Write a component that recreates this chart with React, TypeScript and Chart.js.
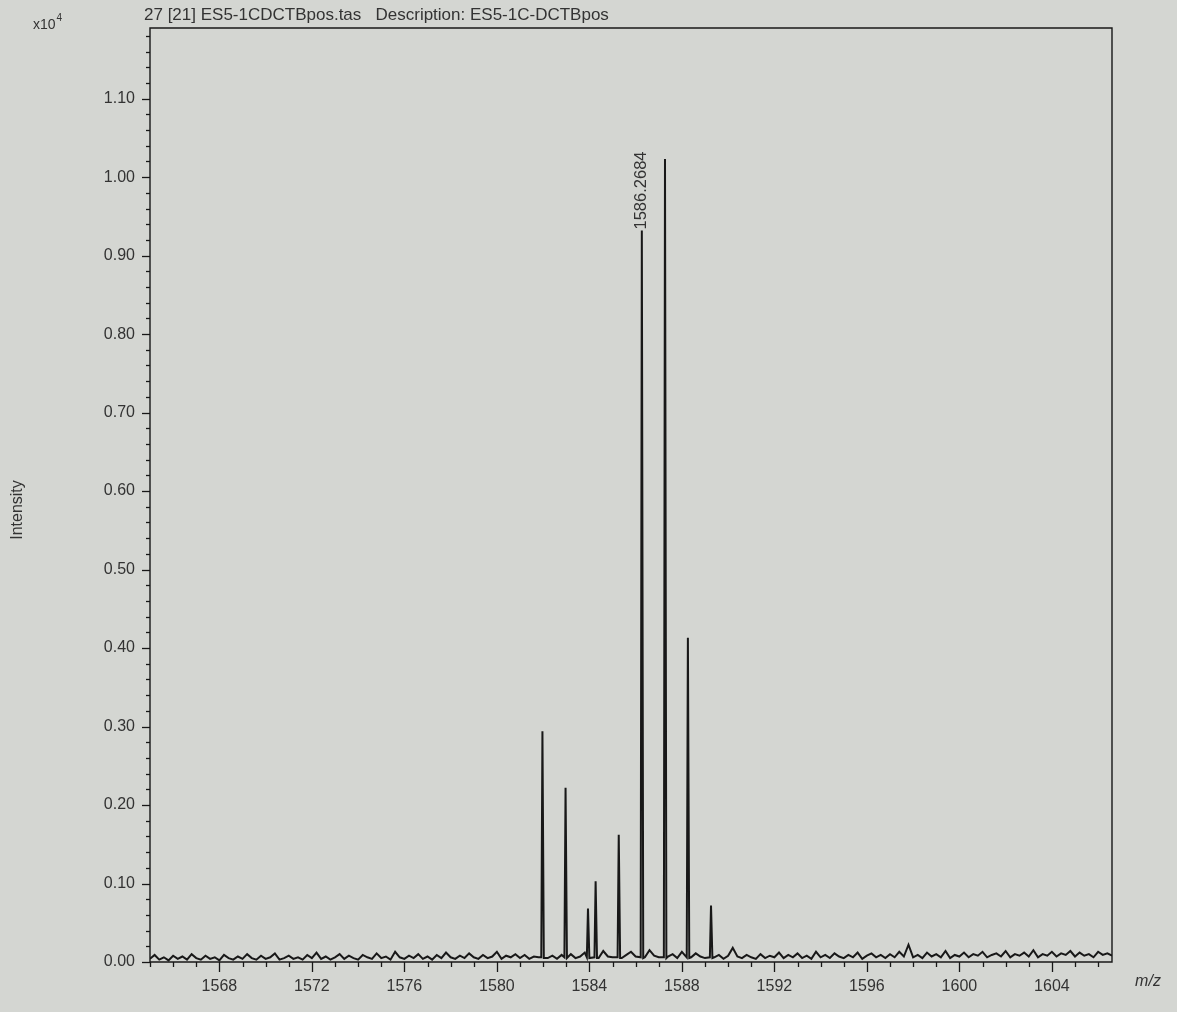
import { useEffect, useRef } from "react";
import { Chart, registerables } from "chart.js";

Chart.register(...registerables);

// ---- text ----
const titleText = "27 [21] ES5-1CDCTBpos.tas   Description: ES5-1C-DCTBpos";
const yAxisTitle = "Intensity";
const xAxisTitle = "m/z";
const yExponentBase = "x10";
const yExponentPower = "4";

// ---- peaks (m/z, intensity in units of 10^4) ----
const peakMz = [1581.97, 1582.97, 1583.94, 1584.27, 1585.27, 1586.2684, 1587.27, 1588.26, 1589.26];
const peakIntensity = [0.294, 0.222, 0.068, 0.103, 0.162, 0.932, 1.023, 0.413, 0.072];
const labelledPeakMz = 1586.2684;
const labelledPeakText = "1586.2684";

// ---- baseline noise, sampled every 0.2 m/z from 1565.0 ----
const noiseStartMz = 1565.0;
const noiseStepMz = 0.2;
const noiseIntensity = [
  0.004, 0.009, 0.003, 0.006, 0.002, 0.008, 0.004, 0.007, 0.003, 0.010,
  0.005, 0.003, 0.008, 0.004, 0.006, 0.002, 0.009, 0.005, 0.003, 0.007,
  0.004, 0.010, 0.005, 0.003, 0.008, 0.004, 0.006, 0.011, 0.003, 0.005,
  0.008, 0.004, 0.006, 0.003, 0.009, 0.005, 0.012, 0.004, 0.007, 0.003,
  0.006, 0.010, 0.004, 0.008, 0.005, 0.003, 0.009, 0.006, 0.004, 0.011,
  0.005, 0.007, 0.003, 0.013, 0.006, 0.004, 0.008, 0.005, 0.010, 0.004,
  0.007, 0.003, 0.009, 0.005, 0.012, 0.006, 0.004, 0.008, 0.005, 0.011,
  0.006, 0.004, 0.009, 0.005, 0.007, 0.013, 0.004, 0.008, 0.006, 0.010,
  0.005, 0.009, 0.004, 0.007, 0.006, 0.011, 0.005, 0.008, 0.004, 0.009,
  0.006, 0.010, 0.005, 0.007, 0.012, 0.006, 0.009, 0.005, 0.014, 0.007,
  0.006, 0.011, 0.005, 0.009, 0.013, 0.007, 0.010, 0.006, 0.015, 0.008,
  0.006, 0.012, 0.007, 0.010, 0.005, 0.013, 0.008, 0.006, 0.011, 0.007,
  0.005, 0.010, 0.006, 0.009, 0.004, 0.008, 0.018, 0.007, 0.005, 0.009,
  0.006, 0.004, 0.010, 0.005, 0.008, 0.006, 0.012, 0.005, 0.009, 0.006,
  0.011, 0.005, 0.008, 0.004, 0.013, 0.006, 0.009, 0.005, 0.011, 0.007,
  0.005, 0.009, 0.006, 0.012, 0.004, 0.008, 0.011, 0.006, 0.009, 0.005,
  0.010, 0.006, 0.013, 0.007, 0.022, 0.006, 0.009, 0.005, 0.012, 0.007,
  0.010, 0.006, 0.014, 0.005, 0.009, 0.007, 0.012, 0.006, 0.010, 0.008,
  0.013, 0.006, 0.009, 0.011, 0.007, 0.014, 0.006, 0.010, 0.008, 0.012,
  0.007, 0.015, 0.006, 0.010, 0.008, 0.013, 0.007, 0.011, 0.009, 0.014,
  0.007, 0.012, 0.008, 0.010, 0.006, 0.013, 0.009, 0.011, 0.008,
];

// ---- axes ----
const xMin = 1565;
const xMax = 1606.6;
const yMin = 0;
const yMax = 1.19;
const xTickValues = [1568, 1572, 1576, 1580, 1584, 1588, 1592, 1596, 1600, 1604];
const yTickValues = [0.0, 0.1, 0.2, 0.3, 0.4, 0.5, 0.6, 0.7, 0.8, 0.9, 1.0, 1.1];
const xMinorStep = 1;
const yMinorStep = 0.02;

const PAPER = "#d4d6d2";
const INK = "#181818";
const TEXT = "#333333";
const FONT = "'Liberation Sans', Arial, sans-serif";

function buildPoints() {
  const pts: { x: number; y: number }[] = [];
  noiseIntensity.forEach((v, i) => {
    const x = +(noiseStartMz + i * noiseStepMz).toFixed(3);
    if (peakMz.some((m) => Math.abs(m - x) < 0.08)) return;
    pts.push({ x, y: v });
  });
  peakMz.forEach((mz, i) => {
    pts.push({ x: mz - 0.05, y: 0.006 });
    pts.push({ x: mz, y: peakIntensity[i] });
    pts.push({ x: mz + 0.06, y: 0.005 });
  });
  pts.sort((a, b) => a.x - b.x);
  return pts;
}

const framePlugin = {
  id: "frame",
  beforeDraw(chart: any) {
    const { ctx, width, height } = chart;
    ctx.save();
    ctx.fillStyle = PAPER;
    ctx.fillRect(0, 0, width, height);
    ctx.restore();
  },
  afterDraw(chart: any) {
    const { ctx, chartArea } = chart;
    const xs = chart.scales.x;
    const ys = chart.scales.y;
    const { left, right, top, bottom } = chartArea;
    ctx.save();
    ctx.strokeStyle = INK;
    ctx.lineWidth = 1.4;
    // frame
    ctx.beginPath();
    ctx.moveTo(left, bottom);
    ctx.lineTo(left, top);
    ctx.lineTo(right, top);
    ctx.lineTo(right, bottom);
    ctx.lineTo(left, bottom);
    ctx.stroke();
    // y ticks
    ctx.lineWidth = 1.3;
    const yCount = Math.round((yMax - yMin) / yMinorStep);
    for (let i = 0; i <= yCount; i++) {
      const v = yMin + i * yMinorStep;
      if (v > yMax) break;
      const major = yTickValues.some((t) => Math.abs(t - v) < 1e-6);
      const py = Math.round(ys.getPixelForValue(v)) + 0.5;
      ctx.beginPath();
      ctx.moveTo(left, py);
      ctx.lineTo(left - (major ? 8 : 4), py);
      ctx.stroke();
    }
    // x ticks
    for (let v = Math.ceil(xMin); v <= xMax; v += xMinorStep) {
      const major = xTickValues.includes(v);
      const px = Math.round(xs.getPixelForValue(v)) + 0.5;
      ctx.beginPath();
      ctx.moveTo(px, bottom);
      ctx.lineTo(px, bottom + (major ? 10 : 5));
      ctx.stroke();
    }
    // title
    ctx.fillStyle = TEXT;
    ctx.font = `17px ${FONT}`;
    ctx.textAlign = "left";
    ctx.textBaseline = "middle";
    ctx.fillText(titleText, 144, 15);
    // exponent
    ctx.font = `14px ${FONT}`;
    ctx.fillText(yExponentBase, 33, 25);
    const w = ctx.measureText(yExponentBase).width;
    ctx.font = `10px ${FONT}`;
    ctx.fillText(yExponentPower, 33 + w + 1, 18);
    // y title
    ctx.save();
    ctx.translate(18, 510);
    ctx.rotate(-Math.PI / 2);
    ctx.font = `16px ${FONT}`;
    ctx.textAlign = "center";
    ctx.fillText(yAxisTitle, 0, 0);
    ctx.restore();
    // x title
    ctx.font = `italic 16px ${FONT}`;
    ctx.textAlign = "center";
    ctx.fillText(xAxisTitle, 1148, 982);
    // peak label
    const idx = peakMz.indexOf(labelledPeakMz);
    const lx = xs.getPixelForValue(labelledPeakMz);
    const ly = ys.getPixelForValue(peakIntensity[idx]);
    ctx.save();
    ctx.translate(lx, ly - 1);
    ctx.rotate(-Math.PI / 2);
    ctx.font = `16.5px ${FONT}`;
    ctx.textAlign = "left";
    ctx.textBaseline = "middle";
    ctx.fillText(labelledPeakText, 0, 0);
    ctx.restore();
    ctx.restore();
  },
};

export default function App() {
  const canvasRef = useRef<HTMLCanvasElement | null>(null);

  useEffect(() => {
    document.body.style.background = PAPER;
    const canvas = canvasRef.current;
    if (!canvas) return;
    const chart = new Chart(canvas, {
      type: "line",
      data: {
        datasets: [
          {
            data: buildPoints(),
            borderColor: INK,
            borderWidth: 2,
            pointRadius: 0,
            tension: 0,
            fill: false,
          },
        ],
      },
      options: {
        animation: false,
        responsive: true,
        maintainAspectRatio: false,
        layout: { padding: { top: 28, right: 65, bottom: 0, left: 0 } },
        plugins: {
          legend: { display: false },
          tooltip: { enabled: false },
          title: { display: false },
        },
        scales: {
          x: {
            type: "linear",
            min: xMin,
            max: xMax,
            afterFit: (s: any) => {
              s.height = 50;
            },
            afterBuildTicks: (s: any) => {
              s.ticks = xTickValues.map((v) => ({ value: v }));
            },
            grid: {
              display: true,
              drawOnChartArea: false,
              drawTicks: true,
              tickLength: 10,
              tickColor: "rgba(0,0,0,0)",
            },
            border: { display: false },
            ticks: {
              autoSkip: false,
              maxRotation: 0,
              padding: 5,
              color: TEXT,
              font: { family: FONT, size: 16 },
              callback: (v: any) => String(v),
            },
          },
          y: {
            type: "linear",
            min: yMin,
            max: yMax,
            afterFit: (s: any) => {
              s.width = 150;
            },
            afterBuildTicks: (s: any) => {
              s.ticks = yTickValues.map((v) => ({ value: v }));
            },
            grid: {
              display: true,
              drawOnChartArea: false,
              drawTicks: true,
              tickLength: 8,
              tickColor: "rgba(0,0,0,0)",
            },
            border: { display: false },
            ticks: {
              padding: 7,
              color: TEXT,
              font: { family: FONT, size: 16 },
              callback: (v: any) => Number(v).toFixed(2),
            },
          },
        },
      },
      plugins: [framePlugin],
    });
    return () => chart.destroy();
  }, []);

  return (
    <div style={{ position: "fixed", left: 0, top: 0, width: 1177, height: 1012, background: PAPER }}>
      <canvas ref={canvasRef} />
    </div>
  );
}
